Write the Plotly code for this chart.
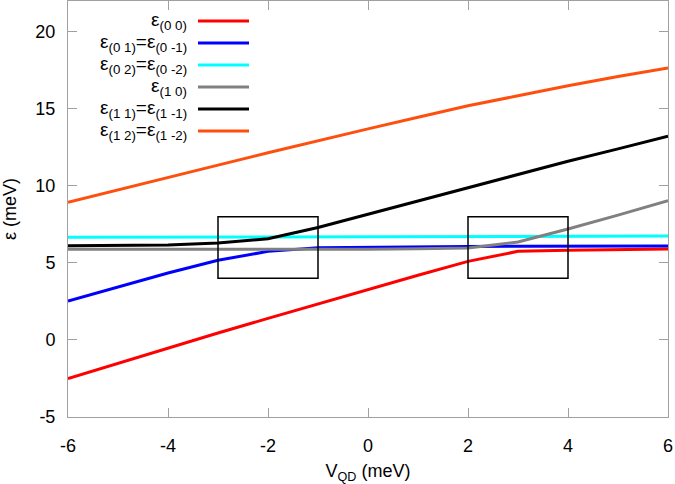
import plotly.graph_objects as go

# ---- data ----
V_QD = [-6, -5, -4, -3, -2, -1, 0, 1, 2, 3, 4, 5, 6]
e00 = [-2.5, -1.5, -0.5, 0.45, 1.4, 2.35, 3.3, 4.2, 5.1, 5.75, 5.83, 5.87, 5.9]
e01 = [2.53, 3.45, 4.35, 5.17, 5.75, 5.98, 6.02, 6.05, 6.07, 6.08, 6.09, 6.1, 6.1]
e02 = [6.66, 6.67, 6.67, 6.68, 6.69, 6.70, 6.70, 6.71, 6.72, 6.72, 6.73, 6.73, 6.74]
e10 = [5.88, 5.88, 5.87, 5.87, 5.87, 5.88, 5.89, 5.92, 5.97, 6.36, 7.2, 8.1, 9.04]
e11 = [6.12, 6.14, 6.17, 6.29, 6.57, 7.3, 8.15, 9.0, 9.88, 10.75, 11.6, 12.4, 13.23]
e12 = [8.93, 9.75, 10.55, 11.35, 12.15, 12.95, 13.7, 14.45, 15.2, 15.85, 16.5, 17.1, 17.66]

names = [
    "ε<sub>(0 0)</sub>",
    "ε<sub>(0 1)</sub>=ε<sub>(0 -1)</sub>",
    "ε<sub>(0 2)</sub>=ε<sub>(0 -2)</sub>",
    "ε<sub>(1 0)</sub>",
    "ε<sub>(1 1)</sub>=ε<sub>(1 -1)</sub>",
    "ε<sub>(1 2)</sub>=ε<sub>(1 -2)</sub>",
]
series = [e00, e01, e02, e10, e11, e12]
colors = ["#ff0000", "#0000ff", "#00ffff", "#808080", "#000000", "#ff4f0f"]

# highlighted boxes (data coordinates)
box_x = [(-3, -1), (2, 4)]
box_y = (4, 8)

x_ticks = [-6, -4, -2, 0, 2, 4, 6]
x_ticktext = ["-6", "-4", "-2", "0", "2", "4", "6"]
y_ticks = [-5, 0, 5, 10, 15, 20]
y_ticktext = ["-5", "0", "5", "10", "15", "20"]

FONT = "Liberation Sans, Arial, Helvetica, sans-serif"

fig = go.Figure()
for name, ys, c in zip(names, series, colors):
    fig.add_trace(go.Scatter(x=V_QD, y=ys, mode="lines", name=name,
                             line=dict(color=c, width=3), showlegend=False))

for (x0, x1) in box_x:
    fig.add_shape(type="rect", xref="x", yref="y", x0=x0, x1=x1,
                  y0=box_y[0], y1=box_y[1],
                  line=dict(color="#000000", width=1.5))

# gnuplot-style legend: right-aligned text, line sample to the right
L, T, PH, PW = 68, 1, 416, 600
row_y = [21, 43, 65, 87, 109, 131]
for i, (name, c) in enumerate(zip(names, colors)):
    yp = 1 - (row_y[i] - T) / PH
    fig.add_annotation(xref="paper", yref="paper", x=(189 - L) / PW, y=yp,
                       xanchor="right", yanchor="middle", text=name,
                       showarrow=False, font=dict(family=FONT, size=19, color="#000"))
    fig.add_shape(type="line", xref="paper", yref="paper",
                  x0=(198 - L) / PW, x1=(249 - L) / PW, y0=yp, y1=yp,
                  line=dict(color=c, width=3))

# y-axis title placed as rotated text
fig.add_annotation(xref="paper", yref="paper", x=(10 - L) / PW, y=0.5,
                   xanchor="center", yanchor="middle", textangle=-90,
                   text="ε (meV)", showarrow=False,
                   font=dict(family=FONT, size=18, color="#000"))

axis_common = dict(
    showline=True, linecolor="#a0a0a0", linewidth=1, mirror="ticks",
    ticks="inside", ticklen=9, tickcolor="#a0a0a0", tickwidth=1,
    showgrid=False, zeroline=False, automargin=False,
    tickfont=dict(family=FONT, size=18, color="#000"),
)

fig.update_xaxes(range=[-6, 6], tickvals=x_ticks, ticktext=x_ticktext,
                 ticklabelstandoff=12,
                 title=dict(text="V<sub>QD</sub> (meV)", standoff=13,
                            font=dict(family=FONT, size=18, color="#000")),
                 **axis_common)
fig.update_yaxes(range=[-5, 22], tickvals=y_ticks, ticktext=y_ticktext,
                 ticklabelstandoff=8, **axis_common)

fig.update_layout(
    width=675, height=484,
    margin=dict(l=L, r=7, t=T, b=67),
    plot_bgcolor="white", paper_bgcolor="white",
    font=dict(family=FONT, size=18, color="#000"),
)

fig.write_html("out.html", config={"displayModeBar": False},
               post_script="document.body.style.margin='0';document.body.style.padding='0';")
